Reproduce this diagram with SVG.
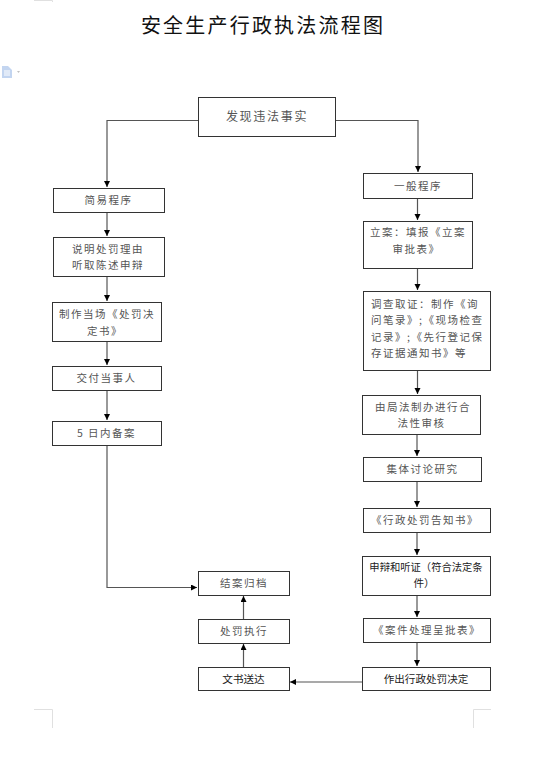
<svg xmlns="http://www.w3.org/2000/svg" width="559" height="770" viewBox="0 0 559 770">
<style>
text{font-family:"Noto Sans CJK SC","Noto Sans CJK JP",sans-serif;font-size:10.500px;fill:#555;text-anchor:middle}
.s{letter-spacing:1.500px}
.l{text-anchor:start}
.d{fill:#222;font-size:10.600px}
.box{fill:#fff;stroke:#333;stroke-width:1}
.c{fill:none;stroke:#555;stroke-width:1.2}
.crop{fill:none;stroke:#e0e0e0;stroke-width:1}
</style>
<defs>
<marker id="a" markerUnits="userSpaceOnUse" markerWidth="7" markerHeight="7" refX="6" refY="3" orient="auto"><path d="M0 0L6 3L0 6Z" fill="#000"/></marker>
</defs>
<rect width="559" height="770" fill="#fff"/>
<path class="crop" d="M34 .5H52.500V2"/>
<path class="crop" d="M34 709.500H52.500V728"/>
<path class="crop" d="M491 709.500H473.500V728"/>
<g id="icon"><path d="M2 66H8L12 70V78H2Z" fill="#c3d5f0"/><path d="M4 71H10M4 73H10M4 75H10" stroke="#fff" stroke-width="1"/><path d="M17 71H20L18.500 73Z" fill="#c0c0c0"/></g>
<text id="title" x="263" y="33" style="font-size:20px;letter-spacing:2.200px;fill:#111">安全生产行政执法流程图</text>
<g id="connectors">
<path class="c" d="M198 120.500H107V187" marker-end="url(#a)"/>
<path class="c" d="M335 120.500H418V172" marker-end="url(#a)"/>
<path class="c" d="M107 213V236" marker-end="url(#a)"/>
<path class="c" d="M107 277V301" marker-end="url(#a)"/>
<path class="c" d="M107 342V365" marker-end="url(#a)"/>
<path class="c" d="M107 390V420" marker-end="url(#a)"/>
<path class="c" d="M107 445V587.500H197" marker-end="url(#a)"/>
<path class="c" d="M417.500 198V220" marker-end="url(#a)"/>
<path class="c" d="M417.500 268V290" marker-end="url(#a)"/>
<path class="c" d="M417.500 371V394" marker-end="url(#a)"/>
<path class="c" d="M417 435V456" marker-end="url(#a)"/>
<path class="c" d="M417 482V507" marker-end="url(#a)"/>
<path class="c" d="M417 532V555" marker-end="url(#a)"/>
<path class="c" d="M417 595V617" marker-end="url(#a)"/>
<path class="c" d="M417 642V666" marker-end="url(#a)"/>
<path class="c" d="M362 682H290" marker-end="url(#a)"/>
<path class="c" d="M243.500 667V644" marker-end="url(#a)"/>
<path class="c" d="M243.500 619V596" marker-end="url(#a)"/>
</g>
<g id="n1"><rect class="box" x="198.500" y="97.500" width="137" height="39"/><text x="267" y="121" style="font-size:12px;letter-spacing:1.700px">发现违法事实</text></g>
<g id="n2"><rect class="box" x="53.500" y="188.500" width="111" height="24"/><text class="s" x="108.500" y="204">简易程序</text></g>
<g id="n3"><rect class="box" x="53.500" y="237.500" width="111" height="39"/><text class="s" x="108" y="253">说明处罚理由</text><text class="s" x="108" y="269">听取陈述申辩</text></g>
<g id="n4"><rect class="box" x="52.500" y="302.500" width="109" height="39"/><text class="s" x="107" y="318">制作当场《处罚决</text><text class="s" x="105" y="335">定书》</text></g>
<g id="n5"><rect class="box" x="52.500" y="366.500" width="109" height="24"/><text class="s" x="106.500" y="382">交付当事人</text></g>
<g id="n6"><rect class="box" x="52.500" y="421.500" width="109" height="24"/><text class="s" x="106.500" y="437">5 日内备案</text></g>
<g id="n7"><rect class="box" x="363.500" y="173.500" width="109" height="25"/><text class="s" x="418" y="190">一般程序</text></g>
<g id="n8"><rect class="box" x="363.500" y="221.500" width="109" height="47"/><text class="s" x="418" y="236">立案：填报《立案</text><text class="s" x="416.500" y="253">审批表》</text></g>
<g id="n9"><rect class="box" x="363.500" y="291.500" width="127" height="79"/><text class="s l" x="371" y="308">调查取证：制作《询</text><text class="s l" x="371" y="324">问笔录》;《现场检查</text><text class="s l" x="371" y="341">记录》;《先行登记保</text><text class="s l" x="371" y="357">存证据通知书》等</text></g>
<g id="n10"><rect class="box" x="362.500" y="395.500" width="118" height="39"/><text class="s" x="423" y="411">由局法制办进行合</text><text class="s" x="421.500" y="427">法性审核</text></g>
<g id="n11"><rect class="box" x="363.500" y="457.500" width="118" height="24"/><text class="s" x="422.500" y="473">集体讨论研究</text></g>
<g id="n12"><rect class="box" x="363.500" y="508.500" width="127" height="24"/><text class="s" x="425" y="524">《行政处罚告知书》</text></g>
<g id="n13"><rect class="box" x="362.500" y="556.500" width="128" height="39"/><text class="d" x="426" y="571" style="font-size:10.300px">申辩和听证（符合法定条</text><text class="d" x="424" y="587">件）</text></g>
<g id="n14"><rect class="box" x="363.500" y="618.500" width="127" height="24"/><text class="s" x="427" y="634">《案件处理呈批表》</text></g>
<g id="n15"><rect class="box" x="362.500" y="667.500" width="128" height="23"/><text class="d" x="426" y="683">作出行政处罚决定</text></g>
<g id="n16"><rect class="box" x="198.500" y="571.500" width="91" height="24"/><text class="s" x="244" y="587">结案归档</text></g>
<g id="n17"><rect class="box" x="198.500" y="619.500" width="91" height="24"/><text class="s" x="244" y="635">处罚执行</text></g>
<g id="n18"><rect class="box" x="198.500" y="667.500" width="91" height="23"/><text class="d" x="243.500" y="683">文书送达</text></g>
</svg>
